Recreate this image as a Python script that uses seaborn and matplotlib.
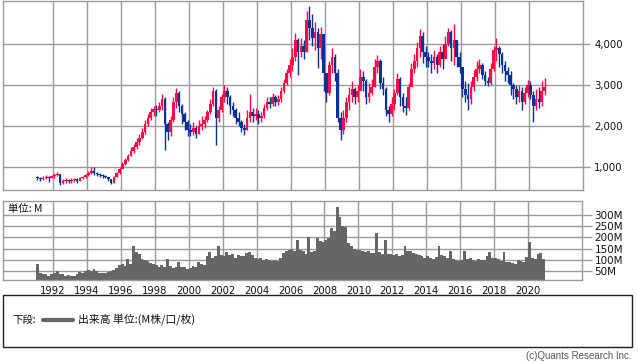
import numpy as np
import pandas as pd
import matplotlib
matplotlib.use("Agg")
import matplotlib.pyplot as plt
from matplotlib.patches import Rectangle
from matplotlib.lines import Line2D
import seaborn as sns

# ---------------- data (bi-monthly candles, Feb 1991 - Dec 2020) ----------------
first_open = 760
close = [
    720, 700, 730, 760, 740, 770,        # 1991
    800, 830, 620, 660, 680, 650,        # 1992
    680, 700, 660, 720, 760, 800,        # 1993
    860, 900, 860, 840, 800, 790,        # 1994
    760, 700, 620, 760, 860, 950,        # 1995
    1080, 1180, 1280, 1400, 1480, 1600,  # 1996
    1720, 1850, 2050, 2200, 2350, 2420,  # 1997
    2400, 2500, 2650, 2050, 1850, 2150,  # 1998
    2600, 2800, 2500, 2300, 2100, 1900,  # 1999
    1850, 1950, 1800, 2000, 2050, 2150,  # 2000
    2350, 2550, 2850, 2200, 2400, 2700,  # 2001
    2850, 2700, 2500, 2400, 2200, 2100,  # 2002
    1950, 1900, 2200, 2350, 2250, 2300,  # 2003
    2200, 2250, 2450, 2600, 2550, 2700,  # 2004
    2600, 2650, 2850, 3050, 3300, 3500,  # 2005
    3700, 4100, 3800, 3950, 3800, 4600,  # 2006
    4400, 4150, 4300, 3900, 4250, 3300,  # 2007
    2800, 3500, 3700, 3300, 2200, 1900,  # 2008
    2200, 2600, 2750, 2900, 2700, 2850,  # 2009
    3200, 3100, 2700, 2800, 2950, 3450,  # 2010
    3600, 3050, 2900, 2400, 2300, 2550,  # 2011
    2800, 3150, 2700, 2500, 2450, 2950,  # 2012
    3400, 3600, 3900, 4200, 3800, 3700,  # 2013
    3600, 3550, 3700, 3500, 3800, 3650,  # 2014
    4000, 4300, 3900, 4100, 3700, 3450,  # 2015
    2900, 2750, 2650, 2950, 3200, 3400,  # 2016
    3500, 3250, 3100, 3050, 3400, 3850,  # 2017
    3900, 3750, 3500, 3350, 3250, 3000,  # 2018
    2900, 2700, 2850, 2600, 2800, 3000,  # 2019
    2750, 2500, 2650, 2600, 2850, 2950,  # 2020
]
high = [
    780, 760, 770, 800, 790, 810,
    850, 870, 830, 700, 720, 700,
    720, 740, 720, 760, 790, 840,
    900, 990, 1000, 880, 860, 830,
    800, 760, 700, 790, 880, 990,
    1120, 1230, 1330, 1500, 1560, 1700,
    1800, 1950, 2150, 2300, 2450, 2500,
    2520, 2600, 2780, 2700, 2100, 2250,
    2700, 2930, 2850, 2550, 2350, 2150,
    2050, 2100, 2000, 2150, 2250, 2250,
    2400, 2650, 2950, 2900, 2500, 2780,
    3010, 2950, 2750, 2600, 2450, 2350,
    2150, 2050, 2400, 2780, 2450, 2450,
    2400, 2350, 2550, 2700, 2700, 2820,
    2750, 2750, 2950, 3150, 3400, 3650,
    3900, 4270, 4150, 4150, 4100, 4800,
    4935, 4750, 4550, 4400, 4420, 4000,
    3150, 3600, 3900, 3750, 3400, 2350,
    2400, 2700, 2950, 3100, 2950, 3000,
    3400, 3350, 3150, 3050, 3150, 3650,
    3740, 3650, 3200, 2950, 2500, 2700,
    2900, 3300, 3200, 2800, 2700, 3050,
    3550, 3750, 4060, 4370, 4300, 3950,
    3800, 3750, 3850, 3750, 3950, 4000,
    4200, 4400, 4350, 4500, 4100, 3800,
    3350, 3100, 3050, 3100, 3380, 3600,
    3650, 3550, 3350, 3200, 3550, 3950,
    4150, 3950, 3800, 3600, 3450, 3350,
    3050, 3000, 3000, 2950, 2950, 3130,
    3100, 2850, 2900, 2950, 3100, 3170,
]
low = [
    690, 660, 690, 700, 640, 720,
    740, 780, 570, 590, 620, 600,
    620, 640, 620, 650, 700, 740,
    790, 830, 800, 780, 760, 740,
    720, 660, 580, 620, 750, 840,
    980, 1050, 1150, 1260, 1350, 1450,
    1550, 1680, 1800, 2000, 2150, 2250,
    2250, 2350, 2400, 1420, 1650, 1750,
    2100, 2450, 2350, 2050, 1900, 1750,
    1750, 1780, 1700, 1800, 1900, 1950,
    2100, 2300, 2500, 1550, 2100, 2350,
    2600, 2550, 2300, 2250, 2050, 2000,
    1850, 1780, 1900, 2100, 2100, 2150,
    2050, 2100, 2200, 2400, 2450, 2500,
    2480, 2520, 2600, 2800, 3000, 3200,
    3350, 3600, 3250, 3700, 3650, 3800,
    4100, 3950, 3850, 3430, 3650, 2850,
    2600, 2750, 3300, 3100, 2100, 1650,
    1800, 2100, 2400, 2600, 2550, 2600,
    2900, 2850, 2550, 2600, 2750, 2950,
    3300, 2900, 2750, 2250, 2110, 2250,
    2400, 2750, 2500, 2350, 2280, 2400,
    3050, 3300, 3450, 3700, 3550, 3450,
    3450, 3300, 3400, 3300, 3450, 3400,
    3700, 3950, 3600, 3500, 3450, 3300,
    2720, 2600, 2400, 2550, 2850, 3100,
    3300, 3150, 3000, 2980, 3000, 3350,
    3600, 3450, 3300, 3100, 3050, 2750,
    2650, 2550, 2600, 2400, 2550, 2700,
    2650, 2110, 2400, 2450, 2500, 2750,
]
volume = [  # millions
    80, 40, 35, 38, 30, 35,
    40, 52, 35, 38, 30, 32,
    28, 30, 38, 45, 42, 50,
    55, 50, 58, 48, 40, 42,
    40, 45, 48, 55, 62, 75,
    80, 72, 105, 80, 160, 135,
    125, 105, 100, 95, 85, 80,
    78, 70, 75, 68, 103, 72,
    65, 70, 88, 70, 68, 60,
    65, 72, 70, 88, 80, 75,
    118, 133, 110, 118, 163, 120,
    115, 133, 120, 125, 110, 120,
    118, 115, 130, 136, 120, 110,
    105, 110, 100, 105, 100, 95,
    100, 95, 110, 130, 140, 145,
    150, 140, 188, 145, 140, 125,
    200, 135, 140, 198, 185, 180,
    190, 195, 243, 230, 337, 292,
    250, 245, 174, 160, 150, 145,
    145, 140, 135, 140, 130, 130,
    221, 135, 125, 189, 125, 128,
    120, 125, 115, 120, 163, 140,
    140, 130, 125, 120, 115, 110,
    115, 110, 105, 112, 163, 120,
    115, 110, 140, 105, 100, 95,
    100, 140, 105, 110, 100, 95,
    105, 100, 98, 115, 136, 110,
    110, 105, 95, 136, 90, 88,
    85, 82, 100, 95, 90, 114,
    180, 110, 105, 125, 130, 105,
]
start_year = 1991
periods_per_year = 6
price_ticks = [1000, 2000, 3000, 4000]
price_labels = ["1,000", "2,000", "3,000", "4,000"]
vol_ticks = [50, 100, 150, 200, 250, 300]
vol_labels = ["50M", "100M", "150M", "200M", "250M", "300M"]
year_ticks = list(range(1992, 2021, 2))
year_labels = [str(y) for y in year_ticks]

# ---------------- style ----------------
sns.set_style("white")
plt.rcParams["font.family"] = ["DejaVu Sans", "Noto Sans CJK JP"]
CJK = ["Noto Sans CJK JP", "DejaVu Sans"]
RED = "#FF0A46"
BLUE = "#0A3296"
GRID = "#9B9B9B"
VOLC = "#666666"

W, H = 638, 362
fig = plt.figure(figsize=(W / 100, H / 100), dpi=100)

def fbox(l, t, r, b):
    return [l / W, 1 - b / H, (r - l) / W, (b - t) / H]

ax = fig.add_axes(fbox(3, 1, 583, 190))
axv = fig.add_axes(fbox(3, 201, 582, 280))

n = len(close)
t = np.array([start_year + (i + 0.5) / periods_per_year for i in range(n)])
c = np.array(close, dtype=float)
o = np.array([first_open] + close[:-1], dtype=float)
hi = np.array(high, dtype=float)
lo = np.array(low, dtype=float)
cols = [RED if cc >= oo else BLUE for cc, oo in zip(c, o)]

xlim = (1992 - 50 / 17, 1992 + 530 / 17)

# ---- price panel ----
for yt in year_ticks:
    ax.axvline(yt, color=GRID, lw=1, zorder=0)
for pt in price_ticks:
    ax.axhline(pt, color=GRID, lw=1, zorder=0)
ax.vlines(t, lo, hi, colors=cols, lw=1.0, zorder=2)
ax.bar(t, np.maximum(np.abs(c - o), 20), bottom=np.minimum(o, c),
       width=0.15, color=cols, linewidth=0, zorder=3)
ax.set_xlim(*xlim)
ax.set_ylim(439, 5056)
ax.set_xticks([])
ax.yaxis.tick_right()
ax.set_yticks(price_ticks)
ax.set_yticklabels(price_labels)
ax.tick_params(axis="y", length=5, width=1, color=GRID, pad=3, labelsize=7.3,
               labelcolor="#111111")
for s in ax.spines.values():
    s.set_color(GRID)
    s.set_linewidth(1)

# ---- volume panel ----
for yt in year_ticks:
    axv.axvline(yt, color=GRID, lw=1, zorder=0)
for vt in vol_ticks:
    axv.axhline(vt, color=GRID, lw=1, zorder=0)
df = pd.DataFrame({"t": t, "vol": volume})
sns.barplot(data=df, x="t", y="vol", native_scale=True, width=1.0,
            color=VOLC, saturation=1, errorbar=None, linewidth=0,
            edgecolor="none", ax=axv, zorder=2)
axv.set_xlim(*xlim)
axv.set_ylim(10, 362)
axv.set_xlabel("")
axv.set_ylabel("")
axv.yaxis.tick_right()
axv.set_yticks(vol_ticks)
axv.set_yticklabels(vol_labels)
axv.tick_params(axis="y", length=7, width=1, color=GRID, pad=2, labelsize=7.5,
                labelcolor="#111111")
axv.set_xticks(year_ticks)
axv.set_xticklabels(year_labels)
axv.tick_params(axis="x", length=0, pad=4, labelsize=7.2, labelcolor="#111111")
for s in axv.spines.values():
    s.set_color(GRID)
    s.set_linewidth(1)
axv.text(0.0085, 0.905, "単位: M", transform=axv.transAxes, ha="left", va="center",
         fontsize=7.5, family=CJK, color="#111111")

# ---- legend box ----
fig.patches.append(Rectangle((3 / W, 1 - 347 / H), 629 / W, 52 / H,
                             transform=fig.transFigure, fill=False,
                             edgecolor="#222222", lw=1))
ly = 1 - 320 / H
fig.text(12 / W, ly, "下段:", ha="left", va="center", fontsize=7.5, family=CJK,
         color="#111111")
fig.lines.append(Line2D([43 / W, 73 / W], [ly, ly], transform=fig.transFigure,
                        color=VOLC, lw=3))
fig.text(78 / W, ly, "出来高 単位:(M株/口/枚)", ha="left", va="center",
         fontsize=7.8, family=CJK, color="#111111")
fig.text(632 / W, 1 - 356 / H, "(c)Quants Research Inc.", ha="right", va="center",
         fontsize=7, family=["Liberation Sans Narrow", "Liberation Sans", "DejaVu Sans"],
         color="#555555")

fig.savefig("out.png", dpi=100)
